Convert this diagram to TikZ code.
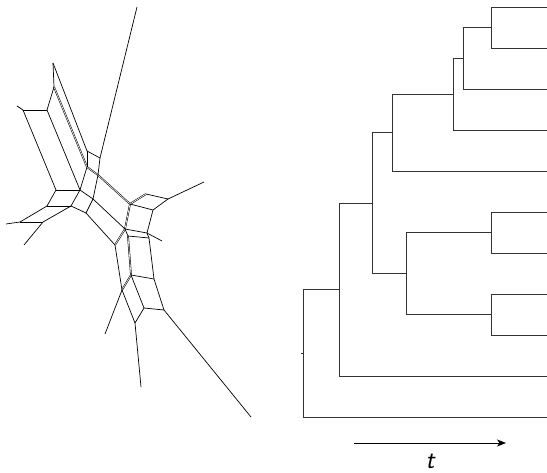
\documentclass[tikz,border=0pt]{standalone}
\usepackage{tikz}
\usetikzlibrary{arrows.meta}

\tikzset{
    net/.style={line width=0.7pt, black},
    netdbl/.style={line width=0.55pt, black, double=white, double distance=0.6pt},
    branch/.style={line width=0.9pt, black!80},
}

\begin{document}
\begin{tikzpicture}[x=1pt, y=-1pt, font=\small]
    \useasboundingbox (0,0) rectangle (547,473);
    % split network
    \foreach \n/\x/\y in {t1/137/7, t2/17/106, t3/6/224, t4/24/245, t5/204/182, t6/162/241, t7/105/334, t8/141/387, t9/251/417,
        p1/53/63, p2/54/87, p3/47/110, p4/23/110, p6/56/190, p7/80/190, p8/87/151, p9/87/167, p10/100/158,
        c/98/175, d/93/199, s1/47/206, e/71/206, s2/20/222, s3/43/222, f/86/213, g/115/245, h/125/229, i/130/204,
        k/146/194, l/168/199, m/153/210, n/147/233, h2/128/236, n2/149/238, u/131/275, w/122/290, v/154/279,
        o1/144/308, o2/164/310, o3/135/323} {
        \coordinate (\n) at (\x,\y);
    }
    \foreach \a/\b in {p2/p9, p9/c, c/i, i/h, g/h, i/k, h2/u, u/w} {
        \draw[netdbl] (\a) -- (\b);
    }
    \foreach \a/\b in {p10/t1, p1/p2, p2/p3, p3/p4, p4/t2, p4/p6, p3/p7, p6/p7, p1/p8, p8/p9, p8/p10, p10/c, c/d, p9/p7, p7/d,
        p6/s1, p7/e, s1/e, s1/s2, e/s3, s2/s3, s2/t3, s3/t4, e/f, d/f, d/h, f/g, k/l, i/m, m/l, l/t5, m/n, h/n, n/t6,
        h/h2, n/n2, h2/n2, n2/v, u/v, g/w, w/o3, u/o1, v/o2, o1/o2, o1/o3, o3/t8, w/t7, o2/t9} {
        \draw[net] (\a) -- (\b);
    }
    % tree
    \foreach \i in {1,...,11} {
        \coordinate (l\i) at (547,{7+41*(\i-1)});
    }
    \foreach \n/\x/\y in {a1/491/27.5, a2/463/58.2, a3/453/94.1, a4/392/132.6, b1/491/232.5, b2/491/314.5, b3/406/273.5,
        a5/372/203, a6/339/289.5, r/303/353.2} {
        \coordinate (\n) at (\x,\y);
    }
    \foreach \a/\b in {a1/l1, a1/l2, a2/a1, a2/l3, a3/a2, a3/l4, a4/a3, a4/l5, b1/l6, b1/l7, b2/l8, b2/l9, b3/b1, b3/b2,
        a5/a4, a5/b3, a6/a5, a6/l10, r/a6, r/l11} {
        \draw[branch] (\a) |- (\b);
    }
    \draw[branch] (r) -- ++(-2,0);
    % time axis
    \coordinate (ta) at (354,443);
    \coordinate (tb) at (506,443);
    \draw[-{Stealth[length=9pt, width=7pt, inset=2.5pt]}, line width=0.9pt] (ta) -- (tb)
        node[midway, below=7pt, font=\fontsize{26}{28}\selectfont\sffamily\itshape] (tlab) {t};
\end{tikzpicture}
\end{document}
